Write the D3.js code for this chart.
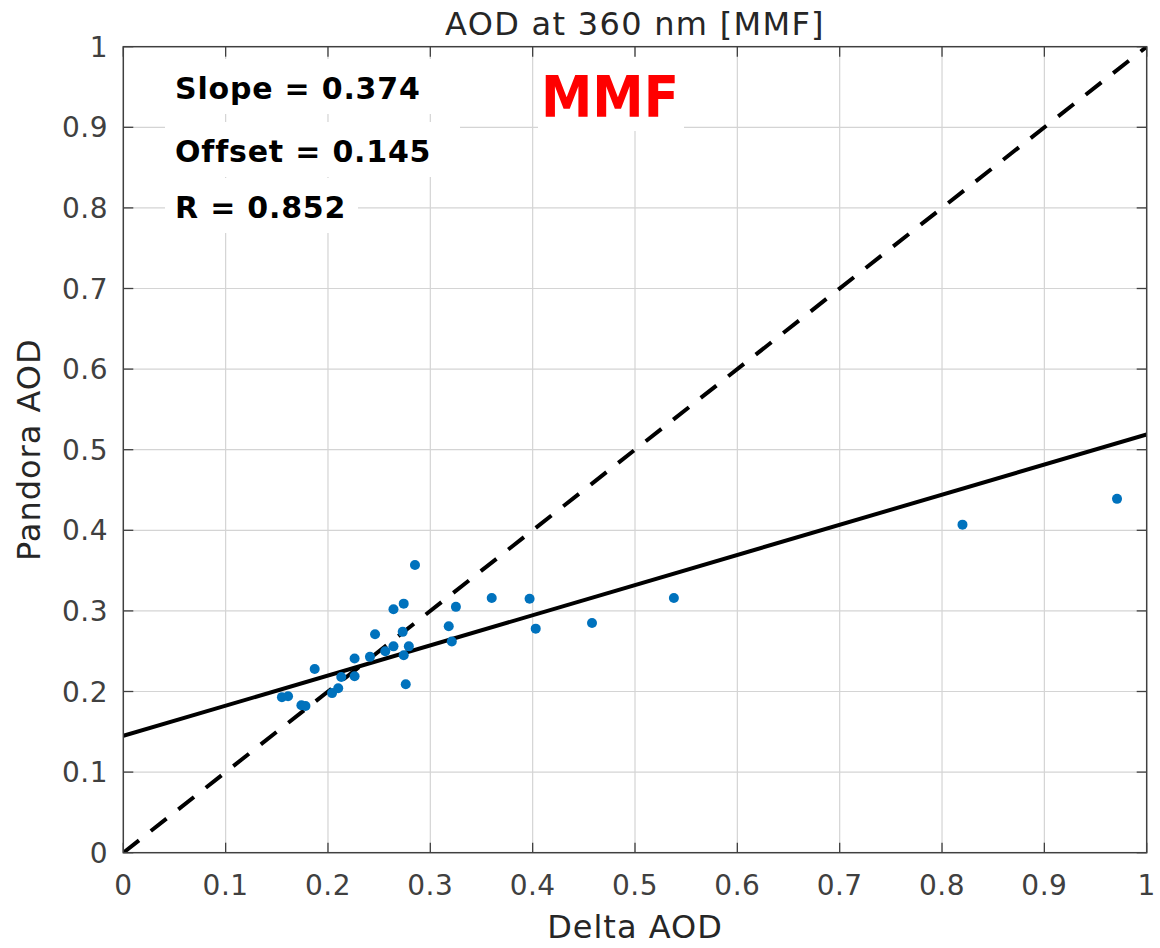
<!DOCTYPE html>
<html>
<head>
<meta charset="utf-8">
<script src="https://cdn.jsdelivr.net/npm/d3@7"></script>
<style>
  body { margin: 0; background: #fff; }
  text { font-family: "DejaVu Sans", Verdana, sans-serif; }
</style>
</head>
<body>
<svg id="chart"></svg>
<script>
// scatter data (Delta AOD vs Pandora AOD)
const deltaAOD = [0.155, 0.161, 0.174, 0.178, 0.187, 0.204, 0.210, 0.213, 0.226, 0.226,
  0.241, 0.246, 0.256, 0.264, 0.264, 0.273, 0.274, 0.274, 0.276, 0.279,
  0.285, 0.318, 0.321, 0.325, 0.360, 0.397, 0.403, 0.458, 0.538, 0.820, 0.971];
const pandoraAOD = [0.193, 0.194, 0.183, 0.182, 0.228, 0.198, 0.204, 0.218, 0.219, 0.241,
  0.243, 0.271, 0.250, 0.256, 0.302, 0.274, 0.245, 0.309, 0.209, 0.256,
  0.357, 0.281, 0.262, 0.305, 0.316, 0.315, 0.278, 0.285, 0.316, 0.407, 0.439];

const slope = 0.374;
const offset = 0.145;
const rValue = 0.852;
const ticks = [0, 0.1, 0.2, 0.3, 0.4, 0.5, 0.6, 0.7, 0.8, 0.9, 1];
const statLines = ["Slope = " + slope.toFixed(3), "Offset = " + offset.toFixed(3), "R = " + rValue.toFixed(3)];

const width = 1160, height = 948;
const mLeft = 123.3, mRight = 1146.7, mTop = 46.7, mBottom = 852.7;

const svg = d3.select("#chart").attr("width", width).attr("height", height);

const x = d3.scaleLinear().domain([0, 1]).range([mLeft, mRight]);
const y = d3.scaleLinear().domain([0, 1]).range([mBottom, mTop]);
const fmt = d => d === 0 ? "0" : d === 1 ? "1" : d.toFixed(1);

svg.append("clipPath").attr("id", "plot-clip")
  .append("rect").attr("x", mLeft).attr("y", mTop)
  .attr("width", mRight - mLeft).attr("height", mBottom - mTop);

// grid
const grid = svg.append("g").attr("stroke", "#d4d4d4").attr("stroke-width", 1.2);
grid.selectAll(".gx").data(ticks.slice(1, -1)).join("line")
  .attr("x1", d => x(d)).attr("x2", d => x(d)).attr("y1", mTop).attr("y2", mBottom);
grid.selectAll(".gy").data(ticks.slice(1, -1)).join("line")
  .attr("y1", d => y(d)).attr("y2", d => y(d)).attr("x1", mLeft).attr("x2", mRight);

// white boxes behind annotations
const statY = [99, 162, 218];
svg.append("g").selectAll("rect").data(statLines).join("rect")
  .attr("x", 165).attr("y", (d, i) => statY[i] - 40)
  .attr("width", (d, i) => [268, 295, 193][i]).attr("height", 55)
  .attr("fill", "#fff");
svg.append("rect").attr("x", 538).attr("y", 57).attr("width", 146).attr("height", 74).attr("fill", "#fff");

// ticks pointing inward on all four sides
const tickG = svg.append("g").attr("stroke", "#404040").attr("stroke-width", 1.3);
tickG.selectAll(".tb").data(ticks).join("line")
  .attr("x1", d => x(d)).attr("x2", d => x(d)).attr("y1", mBottom).attr("y2", mBottom - 10);
tickG.selectAll(".tt").data(ticks).join("line")
  .attr("x1", d => x(d)).attr("x2", d => x(d)).attr("y1", mTop).attr("y2", mTop + 10);
tickG.selectAll(".tl").data(ticks).join("line")
  .attr("y1", d => y(d)).attr("y2", d => y(d)).attr("x1", mLeft).attr("x2", mLeft + 10);
tickG.selectAll(".tr").data(ticks).join("line")
  .attr("y1", d => y(d)).attr("y2", d => y(d)).attr("x1", mRight).attr("x2", mRight - 10);

// lines
const plot = svg.append("g").attr("clip-path", "url(#plot-clip)");
plot.append("line")
  .attr("x1", x(0)).attr("y1", y(0)).attr("x2", x(1)).attr("y2", y(1))
  .attr("stroke", "#000").attr("stroke-width", 4).attr("stroke-dasharray", "20,15");
plot.append("line")
  .attr("x1", x(0)).attr("y1", y(offset)).attr("x2", x(1)).attr("y2", y(offset + slope))
  .attr("stroke", "#000").attr("stroke-width", 4);

// points
plot.selectAll("circle").data(deltaAOD).join("circle")
  .attr("cx", d => x(d)).attr("cy", (d, i) => y(pandoraAOD[i]))
  .attr("r", 5).attr("fill", "#0072BD");

// box
svg.append("rect").attr("x", mLeft).attr("y", mTop)
  .attr("width", mRight - mLeft).attr("height", mBottom - mTop)
  .attr("fill", "none").attr("stroke", "#404040").attr("stroke-width", 1.5);

// tick labels
svg.append("g").selectAll("text").data(ticks).join("text")
  .attr("x", d => x(d)).attr("y", 895).attr("text-anchor", "middle")
  .attr("font-size", 28).attr("letter-spacing", 0.5).attr("fill", "#404040").text(fmt);
svg.append("g").selectAll("text").data(ticks).join("text")
  .attr("x", 108).attr("y", d => y(d)).attr("dy", "0.36em").attr("text-anchor", "end")
  .attr("font-size", 28).attr("letter-spacing", 0.5).attr("fill", "#404040").text(fmt);

// titles
svg.append("text").attr("x", (mLeft + mRight) / 2).attr("y", 35).attr("text-anchor", "middle")
  .attr("font-size", 32).attr("letter-spacing", 1.3).attr("fill", "#262626").text("AOD at 360 nm [MMF]");
svg.append("text").attr("x", (mLeft + mRight) / 2).attr("y", 938).attr("text-anchor", "middle")
  .attr("font-size", 32).attr("letter-spacing", 1).attr("fill", "#262626").text("Delta AOD");
svg.append("text").attr("transform", `translate(40,${(mTop + mBottom) / 2}) rotate(-90)`)
  .attr("text-anchor", "middle").attr("font-size", 32).attr("letter-spacing", 1)
  .attr("fill", "#262626").text("Pandora AOD");

// annotations
svg.append("g").selectAll("text").data(statLines).join("text")
  .attr("x", 175).attr("y", (d, i) => statY[i])
  .attr("font-size", 30).attr("letter-spacing", 0.8).attr("font-weight", "bold").attr("fill", "#000").text(d => d);

svg.append("text").attr("x", 541).attr("y", 117)
  .attr("font-family", "'Open Sans', sans-serif").attr("font-size", 57).attr("font-weight", "bold")
  .attr("fill", "#ff0000").attr("textLength", 138).attr("lengthAdjust", "spacingAndGlyphs").text("MMF");
</script>
</body>
</html>
